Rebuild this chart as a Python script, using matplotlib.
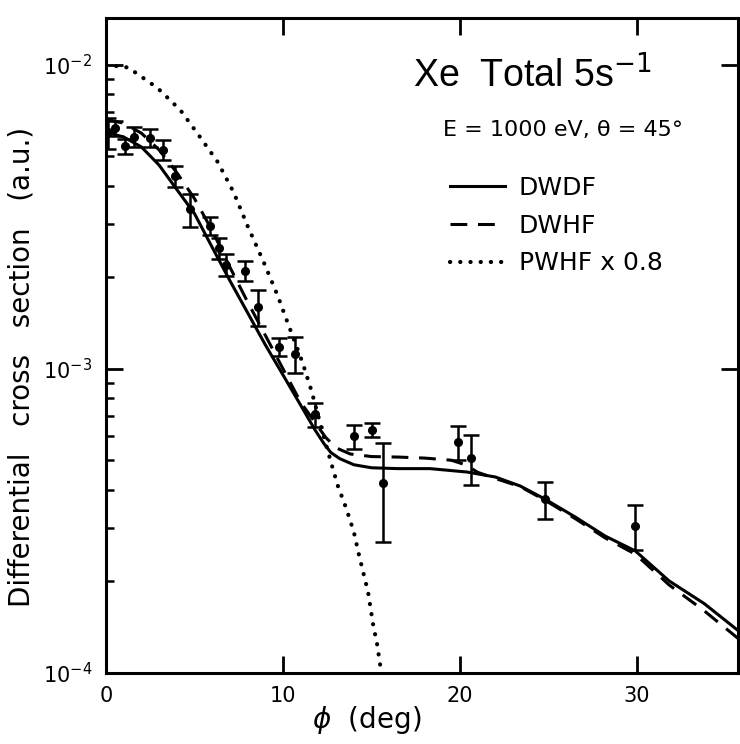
import numpy as np
import matplotlib
matplotlib.use("Agg")
import matplotlib.pyplot as plt
from matplotlib.ticker import LogLocator, NullLocator, FixedLocator

plt.rcParams['font.family'] = ['DejaVu Sans']

# ---------------- data ----------------
# DWDF (solid)
dwdf_phi = [0, 1, 2, 3, 4, 5, 6, 7, 8, 9, 10, 11, 11.8, 12.3, 12.7, 13.2, 14.0,
            15.0, 16.5, 18.3, 20.4, 22.0, 23.4, 24.8, 26.5, 28.2, 29.9, 31.8,
            33.8, 35.7]
dwdf_val = [6.0e-3, 5.79e-3, 5.37e-3, 4.68e-3, 3.89e-3, 3.24e-3, 2.51e-3,
            1.95e-3, 1.53e-3, 1.2e-3, 9.55e-4, 7.59e-4, 6.31e-4, 5.69e-4,
            5.31e-4, 5.07e-4, 4.84e-4, 4.73e-4, 4.7e-4, 4.7e-4, 4.58e-4,
            4.41e-4, 4.12e-4, 3.73e-4, 3.26e-4, 2.82e-4, 2.52e-4, 2.01e-4,
            1.69e-4, 1.38e-4]

# DWHF (dashed)
dwhf_phi = [0, 1, 2, 3, 4, 5, 6, 7, 8, 9, 10, 11, 11.8, 12.4, 13.0, 13.8, 15.0,
            16.5, 18.0, 19.5, 20.3, 21.0, 21.8, 23.4, 24.8, 26.5, 28.2, 29.9,
            31.8, 33.8, 35.7]
dwhf_val = [6.61e-3, 6.43e-3, 5.96e-3, 5.25e-3, 4.42e-3, 3.63e-3, 2.85e-3,
            2.16e-3, 1.66e-3, 1.29e-3, 1.0e-3, 7.76e-4, 6.68e-4, 5.96e-4,
            5.5e-4, 5.25e-4, 5.15e-4, 5.13e-4, 5.09e-4, 5.01e-4, 4.84e-4,
            4.57e-4, 4.4e-4, 4.1e-4, 3.7e-4, 3.22e-4, 2.78e-4, 2.46e-4,
            1.95e-4, 1.6e-4, 1.3e-4]

# PWHF x 0.8 (dotted)
pwhf_phi = [0, 1.25, 2.9, 4.2, 5.3, 6.3, 7.2, 8.0, 8.9, 9.7, 10.2, 11.1, 11.6,
            12.2, 12.7, 13.1, 13.56, 14.0, 14.3, 14.8, 15.1, 15.3, 15.5, 15.6]
pwhf_val = [1.0e-2, 9.8e-3, 8.4e-3, 7.1e-3, 5.8e-3, 4.8e-3, 3.82e-3, 2.95e-3,
            2.25e-3, 1.74e-3, 1.45e-3, 1.05e-3, 8.5e-4, 6.3e-4, 4.95e-4, 4.12e-4,
            3.49e-4, 2.91e-4, 2.43e-4, 1.85e-4, 1.43e-4, 1.26e-4, 1.05e-4, 1.0e-4]

# experimental points
exp_phi = [0.1, 0.5, 1.1, 1.6, 2.5, 3.2, 3.9, 4.75, 5.9, 6.4, 6.8, 7.85, 8.6,
           9.8, 10.7, 11.8, 14.0, 15.0, 15.65, 19.9, 20.6, 24.8, 29.9]
exp_val = [6.0e-3, 6.2e-3, 5.4e-3, 5.8e-3, 5.75e-3, 5.25e-3, 4.3e-3, 3.35e-3,
           2.95e-3, 2.5e-3, 2.2e-3, 2.1e-3, 1.6e-3, 1.18e-3, 1.12e-3, 7.1e-4,
           6.0e-4, 6.3e-4, 4.2e-4, 5.75e-4, 5.1e-4, 3.73e-4, 3.05e-4]
exp_err = [0.7e-3, 0.35e-3, 0.3e-3, 0.45e-3, 0.4e-3, 0.4e-3, 0.35e-3, 0.42e-3,
           0.2e-3, 0.2e-3, 0.18e-3, 0.16e-3, 0.22e-3, 0.08e-3, 0.15e-3, 0.65e-4,
           0.55e-4, 0.35e-4, 1.5e-4, 0.75e-4, 0.95e-4, 0.53e-4, 0.52e-4]

x_ticks = [0, 10, 20, 30]
x_ticklabels = ['0', '10', '20', '30']

# ---------------- figure ----------------
W, H = 740, 744
fig = plt.figure(figsize=(W / 100, H / 100), dpi=100)
ax = fig.add_axes([106 / W, 1 - 673 / H, (738 - 106) / W, (673 - 18) / H])

lw = 2.2
l1, = ax.plot(dwdf_phi, dwdf_val, color='black', lw=lw, ls='-', label='DWDF')
l2, = ax.plot(dwhf_phi, dwhf_val, color='black', lw=lw, ls=(0, (5.5, 3.5)),
              label='DWHF')
l3, = ax.plot(pwhf_phi, pwhf_val, color='black', lw=3.0, ls=(0, (0.05, 2.4)),
              dash_capstyle='round', label='PWHF x 0.8')

ax.errorbar(exp_phi, exp_val, yerr=exp_err, fmt='o', color='black', ms=5.5,
            elinewidth=1.8, capsize=6, capthick=1.8, zorder=5)

ax.set_yscale('log')
ax.set_xlim(0, 35.7)
ax.set_ylim(1e-4, 10 ** -1.846)

ax.xaxis.set_major_locator(FixedLocator(x_ticks))
ax.set_xticklabels(x_ticklabels)
ax.xaxis.set_minor_locator(NullLocator())
ax.yaxis.set_major_locator(LogLocator(base=10, numticks=10))
ax.yaxis.set_minor_locator(LogLocator(base=10, subs=np.arange(2, 10), numticks=20))

for s in ax.spines.values():
    s.set_linewidth(2.2)

ax.tick_params(axis='x', which='major', direction='in', length=12, width=2,
               top=True, labelsize=15, pad=9)
ax.tick_params(axis='y', which='major', direction='in', length=12, width=2,
               right=True, labelsize=15, pad=10)
ax.tick_params(axis='y', which='minor', direction='in', length=6, width=1.8,
               right=False, left=True)

# texts
fig.text(413 / W, 1 - 87 / H, r'Xe  Total 5s$^{-1}$', fontsize=27,
         family=['Liberation Sans', 'DejaVu Sans'],
         ha='left', va='baseline')
fig.text(443 / W, 1 - 136 / H, 'E = 1000 eV, θ = 45°', fontsize=16,
         ha='left', va='baseline')
fig.text(22 / W, 1 - 367 / H, 'Differential   cross   section   (a.u.)',
         fontsize=20, rotation=90, ha='center', va='center')
fig.text(367 / W, 1 - 720 / H, r'$\phi$  (deg)', fontsize=20,
         ha='center', va='center')

fig.legend(handles=[l1, l2, l3], loc='upper left',
           bbox_to_anchor=(450 / W, 1 - 176 / H), frameon=False,
           fontsize=18, handlelength=2.2, handletextpad=0.55,
           labelspacing=0.55, borderpad=0, borderaxespad=0)

fig.savefig('out.png', dpi=100, facecolor='white')
